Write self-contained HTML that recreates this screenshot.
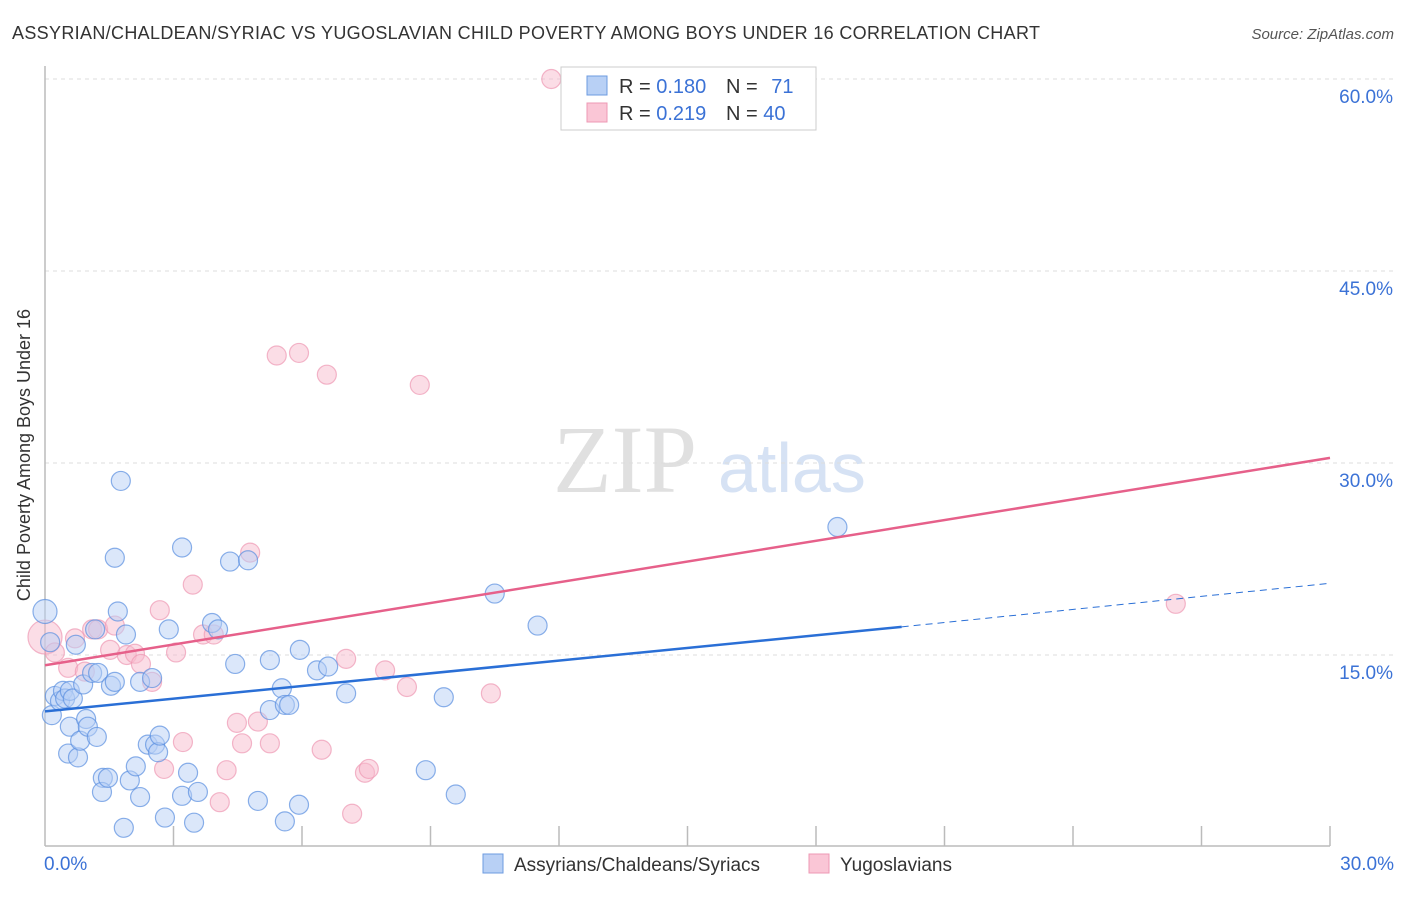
<!DOCTYPE html>
<html><head><meta charset="utf-8"><style>
body{margin:0;background:#fff;font-family:"Liberation Sans",sans-serif;}
svg text{font-family:"Liberation Sans",sans-serif;}
</style></head><body>
<svg id="chart" width="1406" height="892" xmlns="http://www.w3.org/2000/svg">
<text x="12" y="39" font-size="18" fill="#333" letter-spacing="0.33">ASSYRIAN/CHALDEAN/SYRIAC VS YUGOSLAVIAN CHILD POVERTY AMONG BOYS UNDER 16 CORRELATION CHART</text>
<text x="1394" y="39" font-size="15" fill="#555" font-style="italic" text-anchor="end">Source: ZipAtlas.com</text>
<text x="30" y="455" font-size="18" fill="#333" text-anchor="middle" transform="rotate(-90 30 455)">Child Poverty Among Boys Under 16</text>
<g>
<text x="553" y="492" font-size="96" fill="#e0e0e0" style="font-family:'Liberation Serif',serif">ZIP</text>
<text x="718" y="492" font-size="70" fill="#d6e2f4">atlas</text>
</g>
<g id="grid"></g><g id="axes"></g><g id="marks"></g><g id="lines"></g>
<g>
<rect x="561" y="67" width="255" height="63" fill="#fff" stroke="#ccc"/>
<rect x="587" y="76" width="20" height="19" fill="#b8d0f5" stroke="#6d9be0"/>
<rect x="587" y="103" width="20" height="19" fill="#fac6d6" stroke="#ee98b4"/>
<text x="619" y="93" font-size="20" fill="#333">R = <tspan fill="#3b72d6">0.180</tspan></text>
<text x="726" y="93" font-size="20" fill="#333">N = <tspan fill="#3b72d6" dx="8">71</tspan></text>
<text x="619" y="120" font-size="20" fill="#333">R = <tspan fill="#3b72d6">0.219</tspan></text>
<text x="726" y="120" font-size="20" fill="#333">N = <tspan fill="#3b72d6">40</tspan></text>
</g>
<g>
<rect x="483" y="854" width="20" height="19" fill="#b8d0f5" stroke="#6d9be0"/>
<text x="514" y="871" font-size="19" fill="#333">Assyrians/Chaldeans/Syriacs</text>
<rect x="809" y="854" width="20" height="19" fill="#fac6d6" stroke="#ee98b4"/>
<text x="840" y="871" font-size="19" fill="#333">Yugoslavians</text>
</g>
</svg>
<script>
const yTicks=[15,30,45,60];
const yTickLabels=["15.0%","30.0%","45.0%","60.0%"];
const xEndLabels=["0.0%","30.0%"];
const blueX=[0.0,0.12,0.16,0.23,0.35,0.42,0.47,0.58,0.65,0.54,0.58,0.72,0.77,0.82,0.89,0.96,1.0,1.17,1.21,1.1,1.24,1.35,1.33,1.47,1.54,1.63,1.63,1.7,1.77,1.84,1.89,1.98,2.12,2.22,2.22,2.4,2.5,2.57,2.64,2.68,2.8,2.89,3.2,3.2,3.34,3.48,3.57,3.9,4.04,4.32,4.44,4.74,4.97,5.25,5.25,5.53,5.6,5.6,5.7,5.93,5.95,6.35,6.61,7.03,8.89,9.31,9.59,10.5,11.5,18.5];
const blueY=[18.4,16.0,10.3,11.8,11.4,12.2,11.6,12.2,11.6,7.3,9.4,15.8,7.0,8.3,12.7,10.0,9.4,17.0,8.6,13.6,13.6,5.4,4.3,5.4,12.6,12.9,22.6,18.4,28.6,1.5,16.6,5.2,6.3,3.9,12.9,8.0,13.2,8.0,7.4,8.7,2.3,17.0,4.0,23.4,5.8,1.9,4.3,17.5,17.0,22.3,14.3,22.4,3.6,10.7,14.6,12.4,2.0,11.1,11.1,3.3,15.4,13.8,14.1,12.0,6.0,11.7,4.1,19.8,17.3,25.0];
const pinkX=[0.0,0.23,0.54,0.7,0.93,1.1,1.24,1.52,1.63,1.91,2.1,2.24,2.5,2.68,2.78,3.06,3.22,3.45,3.69,3.94,4.24,4.08,4.48,4.6,4.79,4.97,5.25,5.41,5.93,6.46,6.58,7.03,7.17,7.47,7.56,7.94,8.45,8.75,10.41,11.82,26.4];
const pinkY=[16.4,15.2,14.0,16.3,13.7,17.0,17.0,15.4,17.3,15.0,15.1,14.3,12.9,18.5,6.1,15.2,8.2,20.5,16.6,16.6,6.0,3.5,9.7,8.1,23.0,9.8,8.1,38.4,38.6,7.6,36.9,14.7,2.6,5.8,6.1,13.8,12.5,36.1,12.0,60.0,19.0];
const blueTrend=[0,10.6,20,17.2,30,20.6];
const pinkTrend=[0,14.2,30,30.4];

const X0=45,X1=1330,Y0=847,YTOP=79;
const sx=v=>X0+(v/30)*(X1-X0);
const sy=v=>Y0-(v/60)*(Y0-YTOP);
const NS="http://www.w3.org/2000/svg";
function mk(tag,attrs,parent){const e=document.createElementNS(NS,tag);for(const k in attrs)e.setAttribute(k,attrs[k]);parent.appendChild(e);return e;}
const grid=document.getElementById('grid'),axes=document.getElementById('axes'),marks=document.getElementById('marks'),lines=document.getElementById('lines');
yTicks.forEach((t,i)=>{
 const l=mk('line',{x1:X0,x2:1394,y1:sy(t),y2:sy(t),stroke:'#ddd','stroke-dasharray':'4,4'},grid);
 
 
 const tx=mk('text',{x:1393,y:sy(t)+24,'font-size':19,fill:'#3b72d6','text-anchor':'end'},grid);
 tx.textContent=yTickLabels[i];
 
 
});
const ya=mk('line',{x1:X0,x2:X0,y1:66,y2:846,stroke:'#bbb','stroke-width':1.5},axes);


const xa=mk('line',{x1:X0,x2:X1,y1:846,y2:846,stroke:'#bbb','stroke-width':1.5},axes);


for(let i=1;i<=10;i++){
 const t=mk('line',{x1:sx(i*3),x2:sx(i*3),y1:826,y2:846,stroke:'#bbb','stroke-width':1.5},axes);
 
 
}
[[0,'start',44],[30,'end',1394]].forEach((d,i)=>{
 const t=mk('text',{x:d[2],y:870,'font-size':19,fill:'#3b72d6','text-anchor':d[1]},axes);
 t.textContent=xEndLabels[i];
 
 
});
function dots(xs,ys,fill,stroke,name){
 xs.forEach((x,i)=>{
  const r=(i===0)?(name==='pink-point'?17:12):9.5;
  const c=mk('circle',{cx:sx(x),cy:sy(ys[i]),r:r,fill:fill,'fill-opacity':0.5,stroke:stroke,'stroke-opacity':0.7,'stroke-width':1.2},marks);
  
  
 });
}
dots(pinkX,pinkY,'#f8bccd','#ee98b4','pink-point');
dots(blueX,blueY,'#b8d0f5','#5a8ee0','blue-point');
const b1=mk('line',{x1:sx(blueTrend[0]),y1:sy(blueTrend[1]),x2:sx(blueTrend[2]),y2:sy(blueTrend[3]),stroke:'#2a6fd6','stroke-width':2.5},lines);


const b2=mk('line',{x1:sx(blueTrend[2]),y1:sy(blueTrend[3]),x2:sx(blueTrend[4]),y2:sy(blueTrend[5]),stroke:'#2a6fd6','stroke-width':1,'stroke-dasharray':'7,5'},lines);


const p1=mk('line',{x1:sx(pinkTrend[0]),y1:sy(pinkTrend[1]),x2:sx(pinkTrend[2]),y2:sy(pinkTrend[3]),stroke:'#e6608a','stroke-width':2.5},lines);


</script>
</body></html>
